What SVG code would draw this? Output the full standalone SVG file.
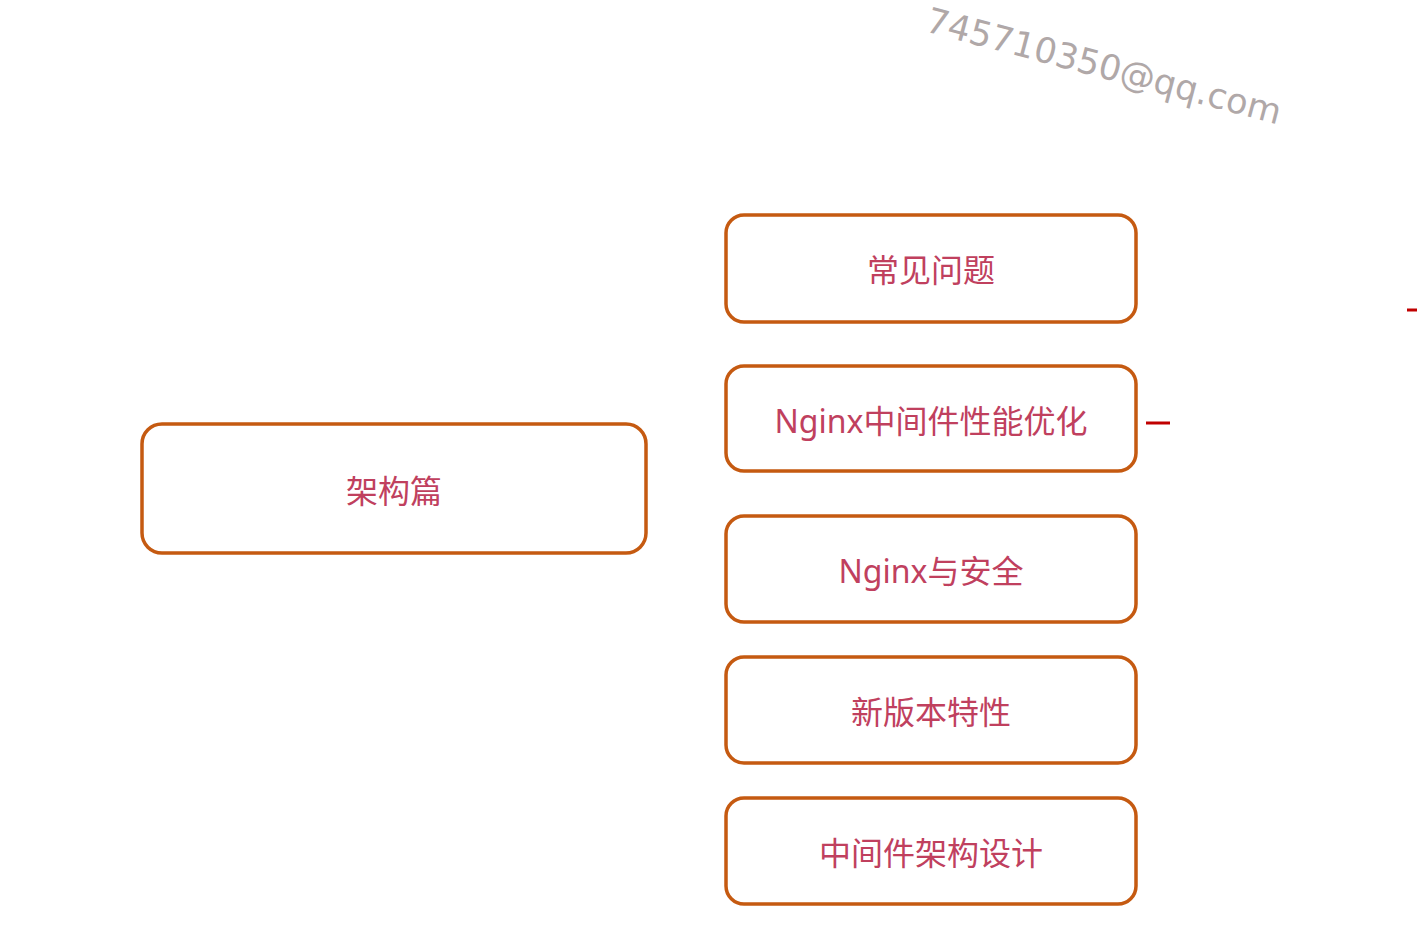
<svg xmlns="http://www.w3.org/2000/svg" width="1417" height="947" viewBox="0 0 1417 947">
<style>
.box{fill:#ffffff;stroke:#c55a11;stroke-width:3.5}
.lbl{font-family:"Microsoft YaHei","Noto Sans","Noto Sans CJK SC",sans-serif;font-size:32px;fill:#c0405e;text-anchor:middle;dominant-baseline:central}
.wm{font-family:"DejaVu Sans",Verdana,sans-serif;font-size:35px;fill:#b0a8a8}
.dash{stroke:#c00000;stroke-width:3;fill:none}
</style>
<rect width="1417" height="947" fill="#ffffff"/>
<text class="wm" x="924" y="31" transform="rotate(14.8 924 31)">745710350@qq.com</text>
<g id="connectors">
<line class="dash" x1="1146" y1="423" x2="1170" y2="423"/>
<line class="dash" x1="1407" y1="310" x2="1417" y2="310" stroke-width="2"/>
</g>
<g id="node-root">
<rect class="box" x="142" y="424" width="504" height="129" rx="20"/>
<text class="lbl" x="394" y="490">架构篇</text>
</g>
<g id="node-faq">
<rect class="box" x="726" y="215" width="410" height="107" rx="18"/>
<text class="lbl" x="931" y="269">常见问题</text>
</g>
<g id="node-perf">
<rect class="box" x="726" y="366" width="410" height="105" rx="18"/>
<text class="lbl" x="931" y="420">Nginx中间件性能优化</text>
</g>
<g id="node-security">
<rect class="box" x="726" y="516" width="410" height="106" rx="18"/>
<text class="lbl" x="931" y="570">Nginx与安全</text>
</g>
<g id="node-features">
<rect class="box" x="726" y="657" width="410" height="106" rx="18"/>
<text class="lbl" x="931" y="711">新版本特性</text>
</g>
<g id="node-design">
<rect class="box" x="726" y="798" width="410" height="106" rx="18"/>
<text class="lbl" x="931" y="852">中间件架构设计</text>
</g>
</svg>
